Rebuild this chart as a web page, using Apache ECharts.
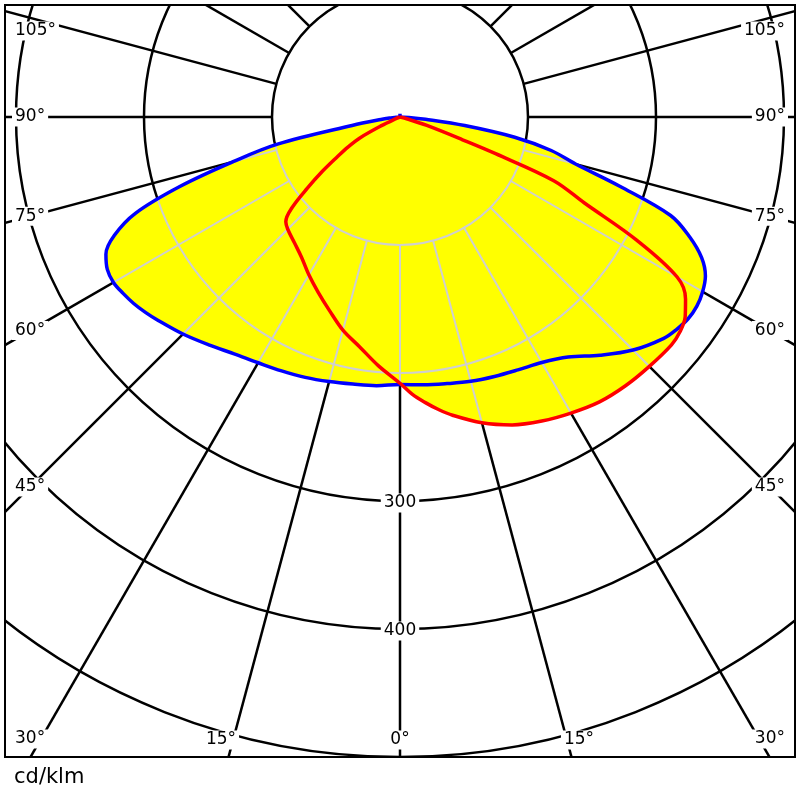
<!DOCTYPE html>
<html>
<head>
<meta charset="utf-8">
<style>
html,body{margin:0;padding:0;background:#ffffff;}
#chart{width:800px;height:800px;}
</style>
<script src="https://cdn.jsdelivr.net/npm/echarts@6/dist/echarts.min.js"></script>
</head>
<body>
<div id="chart"></div>
<script>
// ---- data (cd/klm vs gamma angle, 0 = down, positive = right) ----
const blueAngles = [-180, -90, -87.5, -85, -82.5, -80, -77.5, -75, -72.5, -70, -67.5, -65, -62.5, -60, -57.5, -55, -52.5, -50, -45, -40, -35, -30, -25, -20, -15, -10, -5, 0, 5, 10, 15, 20, 25, 30, 35, 40, 45, 50, 52.5, 55, 57.5, 60, 62.5, 65, 67.5, 70, 72.5, 75, 77.5, 80, 82.5, 85, 87.5, 90, 180];
const blueValues = [2.5, 0, 3, 6, 15, 38, 98, 135, 180, 220, 241.5, 253.5, 257.8, 258.5, 256.5, 254, 250.7, 247, 239.8, 232.4, 225.9, 221.7, 218.9, 216.5, 214, 211.9, 210.7, 209, 210, 211.5, 213.8, 215.7, 218, 221.5, 229, 243, 257.5, 269, 272.5, 274.8, 275, 273, 269, 260, 245, 225, 180, 142, 121, 91, 51, 20, 7, 0, 2.5];

const redAngles = [-180, -90, -70, -67.5, -65, -62.5, -60, -57.5, -55, -52.5, -50, -47.5, -45, -40, -35, -30, -25, -20, -15, -10, -5, 0, 2.5, 5, 7.5, 10, 15, 20, 25, 30, 35, 40, 45, 50, 52.5, 55, 57.5, 60, 62.5, 65, 67.5, 69, 70, 72.5, 75, 80, 90, 180];
const redValues = [0, 0, 0, 4, 16, 35, 47, 58.5, 74, 91, 110, 121, 124, 128.3, 134, 142.4, 151.2, 161, 172.4, 182.2, 195, 208, 216.7, 223.8, 230.5, 236.6, 247.3, 256, 262.1, 267.1, 271.7, 274.1, 275.5, 276.9, 275.7, 272, 264.5, 250, 208.7, 159, 130, 80, 52, 22, 6, 0, 0, 0];

const radiusTicks = [100, 200, 300, 400, 500, 600];
const radiusLabelValues = [300, 400];
const angleTicks = [-165, -150, -135, -120, -105, -90, -75, -60, -45, -30, -15, 0, 15, 30, 45, 60, 75, 90, 105, 120, 135, 150, 165, 180];
const angleLabelValues = [-105, -90, -75, -60, -45, -30, -15, 0, 15, 30, 45, 60, 75, 90, 105];
const unitLabel = 'cd/klm';

const RMAX = 600;
const FONT = '17px "DejaVu Sans", Verdana, sans-serif';

function pairs(vals, angs) { return vals.map((v, i) => [v, angs[i]]); }

function gridGroup(api, color, width) {
  const c = api.coord([0, 0]);
  const children = [];
  radiusTicks.forEach(v => {
    const p = api.coord([v, 0]);
    const r = Math.hypot(p[0] - c[0], p[1] - c[1]);
    children.push({type: 'circle', shape: {cx: c[0], cy: c[1], r: r},
      style: {fill: 'none', stroke: color, lineWidth: width}});
  });
  angleTicks.forEach(a => {
    const p1 = api.coord([radiusTicks[0], a]);
    const p2 = api.coord([RMAX, a]);
    children.push({type: 'line', shape: {x1: p1[0], y1: p1[1], x2: p2[0], y2: p2[1]},
      style: {stroke: color, lineWidth: width}});
  });
  return {type: 'group', children: children};
}

function labelGroup(api) {
  const c = api.coord([0, 0]);
  const children = [];
  const txt = (text, x, y, align) => ({type: 'text', style: {
    text: text, x: x, y: y, align: align, verticalAlign: 'middle',
    font: FONT, fill: '#000', backgroundColor: '#fff', padding: [1, 3, 1, 3]}});
  angleLabelValues.forEach(a => {
    const far = api.coord([RMAX, a]);
    const len = Math.hypot(far[0] - c[0], far[1] - c[1]);
    const ux = (far[0] - c[0]) / len, uy = (far[1] - c[1]) / len;
    const text = Math.abs(a) + '°';
    if (Math.abs(a) <= 15) {
      const yB = 740;
      const t = (yB - c[1]) / uy;
      const x = c[0] + t * ux;
      if (a === 0) children.push(txt(text, x, yB, 'center'));
      else if (a < 0) children.push(txt(text, x + 6, yB, 'right'));
      else children.push(txt(text, x - 6, yB, 'left'));
    } else {
      const xe = a < 0 ? 30 : 770;
      const t = (xe - c[0]) / ux;
      let y = c[1] + t * uy;
      y = Math.max(31, Math.min(739, y));
      if (a < 0) children.push(txt(text, 12, y, 'left'));
      else children.push(txt(text, 788, y, 'right'));
    }
  });
  radiusLabelValues.forEach(v => {
    const p = api.coord([v, 0]);
    children.push(txt(String(v), p[0], p[1] + 2, 'center'));
  });
  return {type: 'group', children: children};
}

const chart = echarts.init(document.getElementById('chart'), null, {renderer: 'canvas'});
chart.setOption({
  animation: false,
  polar: {center: [400, 117], radius: 768},
  radiusAxis: {type: 'value', min: 0, max: RMAX, show: false, axisLine: {show: false}, splitLine: {show: false}, axisLabel: {show: false}, axisTick: {show: false}},
  angleAxis: {type: 'value', min: -180, max: 180, startAngle: 90, clockwise: false, show: false, axisLine: {show: false}, splitLine: {show: false}, axisLabel: {show: false}, axisTick: {show: false}},
  series: [
    {type: 'line', coordinateSystem: 'polar', data: pairs(blueValues, blueAngles), smooth: 0.35, showSymbol: false, silent: true,
      lineStyle: {width: 0, opacity: 0}, areaStyle: {color: '#ffff00', opacity: 1}, z: 1},
    {type: 'line', coordinateSystem: 'polar', data: pairs(redValues, redAngles), smooth: 0.35, showSymbol: false, silent: true,
      lineStyle: {width: 0, opacity: 0}, areaStyle: {color: '#ffff00', opacity: 1}, z: 1},
    {type: 'custom', coordinateSystem: 'polar', data: [[0, 0]], silent: true, z: 2, blendMode: 'source-atop',
      renderItem: (p, api) => gridGroup(api, '#cfcfcf', 2)},
    {type: 'custom', coordinateSystem: 'polar', data: [[0, 0]], silent: true, z: 3, blendMode: 'destination-over',
      renderItem: (p, api) => gridGroup(api, '#000000', 2.5)},
    {type: 'line', coordinateSystem: 'polar', data: pairs(blueValues, blueAngles), smooth: 0.35, showSymbol: false, silent: true,
      lineStyle: {color: '#0000ff', width: 3.5}, z: 4},
    {type: 'line', coordinateSystem: 'polar', data: pairs(redValues, redAngles), smooth: 0.35, showSymbol: false, silent: true,
      lineStyle: {color: '#ff0000', width: 3.5}, z: 4},
    {type: 'custom', coordinateSystem: 'polar', data: [[0, 0]], silent: true, z: 5,
      renderItem: (p, api) => labelGroup(api)}
  ],
  graphic: [
    {type: 'rect', z: 100, silent: true, shape: {x: 0, y: 0, width: 800, height: 5}, style: {fill: '#fff'}},
    {type: 'rect', z: 100, silent: true, shape: {x: 0, y: 757, width: 800, height: 43}, style: {fill: '#fff'}},
    {type: 'rect', z: 100, silent: true, shape: {x: 0, y: 0, width: 5, height: 800}, style: {fill: '#fff'}},
    {type: 'rect', z: 100, silent: true, shape: {x: 795, y: 0, width: 5, height: 800}, style: {fill: '#fff'}},
    {type: 'rect', z: 101, silent: true, shape: {x: 5, y: 5, width: 790, height: 752}, style: {fill: 'none', stroke: '#000', lineWidth: 2}},
    {type: 'text', z: 101, silent: true, x: 14, y: 778, style: {text: unitLabel, font: '21px "DejaVu Sans", Verdana, sans-serif', fill: '#000', verticalAlign: 'middle', align: 'left'}}
  ]
});
</script>
</body>
</html>
